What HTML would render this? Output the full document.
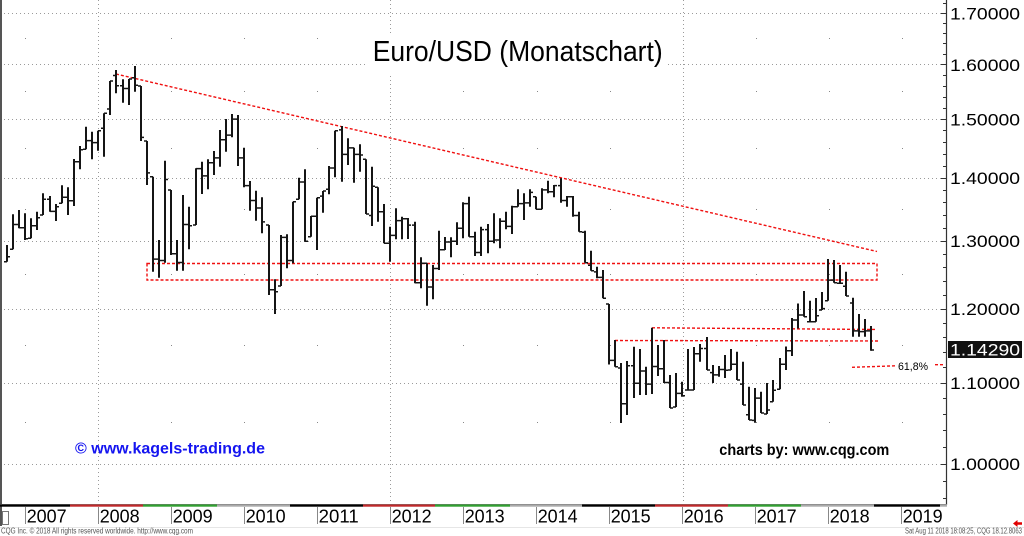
<!DOCTYPE html>
<html><head><meta charset="utf-8">
<style>
html,body{margin:0;padding:0;background:#fff;}
svg{display:block;font-family:"Liberation Sans",Arial,sans-serif;}
</style></head><body>
<svg id="c" width="1024" height="536" viewBox="0 0 1024 536" xmlns="http://www.w3.org/2000/svg">
<rect width="1024" height="536" fill="#fff"/>
<g id="grid"></g>
<!-- title -->
<rect x="368" y="33" width="300" height="40" fill="#fff"/>
<text x="372.7" y="61" font-size="29" textLength="290" lengthAdjust="spacingAndGlyphs" fill="#000">Euro/USD (Monatschart)</text>
<!-- red lines -->
<g fill="none" stroke="#f01010" stroke-width="1.4" stroke-dasharray="3 2">
<line x1="116" y1="74" x2="877" y2="251.5"/>
<path d="M147 263.5H877V280H147Z"/>
<line x1="652" y1="327.8" x2="877" y2="329.5"/>
<line x1="615" y1="340.5" x2="878" y2="341"/>
<line x1="852" y1="367.3" x2="896" y2="365.8"/>
<line x1="935" y1="364.7" x2="945" y2="364.7"/>
</g>
<g id="bars"></g>
<text x="898" y="370" font-size="11" textLength="30" lengthAdjust="spacingAndGlyphs" fill="#000">61,8%</text>
<text x="75" y="453.3" font-size="16" font-weight="bold" textLength="190" lengthAdjust="spacingAndGlyphs" fill="#1414f0">© www.kagels-trading.de</text>
<text x="719.3" y="455" font-size="16" font-weight="bold" textLength="170" lengthAdjust="spacingAndGlyphs" fill="#000">charts by: www.cqg.com</text>
<!-- axes -->
<line x1="946.5" y1="0" x2="946.5" y2="505" stroke="#333" stroke-width="1.2"/>
<line x1="1" y1="0" x2="1" y2="526" stroke="#555" stroke-width="2"/>
<g id="segs"></g>
<g id="axis"></g>
<rect x="948" y="341" width="74" height="17" fill="#111"/>
<text x="950" y="355.5" font-size="17" textLength="70" lengthAdjust="spacingAndGlyphs" fill="#fff">1.14290</text>
<rect x="2.5" y="511.5" width="6" height="13" fill="none" stroke="#777" stroke-width="1"/>
<line x1="0" y1="527.5" x2="1024" y2="527.5" stroke="#e6e6e6" stroke-width="1"/>
<text x="1" y="533.5" font-size="8" textLength="192" lengthAdjust="spacingAndGlyphs" fill="#555">CQG Inc. © 2018 All rights reserved worldwide. http://www.cqg.com</text>
<text x="905" y="533.5" font-size="8" textLength="117" lengthAdjust="spacingAndGlyphs" fill="#555">Sat Aug 11 2018 18:08:25, CQG 18.12.8063</text>
<polygon points="1013,523.5 1017.5,520 1017.5,522.3 1022,522.3 1022,524.7 1017.5,524.7 1017.5,527" fill="#e00000"/>
</svg>
<script>
(function(){
var NS="http://www.w3.org/2000/svg";
function Y(p){return 463.5-849.4*Math.log(p);}
function el(tag,attrs,parent,txt){var e=document.createElementNS(NS,tag);for(var k in attrs)e.setAttribute(k,attrs[k]);if(txt!==undefined)e.textContent=txt;parent.appendChild(e);return e;}
var grid=document.getElementById('grid'),axis=document.getElementById('axis'),bars=document.getElementById('bars'),segs=document.getElementById('segs');
// horizontal dotted grid
for(var i=0;i<=7;i++){var p=1+i*0.1;var y=Math.round(Y(p))+0.5;
 el('line',{x1:0,y1:y,x2:945,y2:y,stroke:'#9a9a9a','stroke-width':1,'stroke-dasharray':'1 3'},grid);
 el('text',{x:950,y:(Y(p)+6.5).toFixed(1),'font-size':17,textLength:70,lengthAdjust:'spacingAndGlyphs',fill:'#000'},axis,p.toFixed(5));
}
// vertical dotted grid
[98,390,683].forEach(function(x){el('line',{x1:x+0.5,y1:0,x2:x+0.5,y2:504,stroke:'#9a9a9a','stroke-width':1,'stroke-dasharray':'1 3'},grid);});
// isolated dots
var yrs=[25,171,244,317,463,537,610,756,829,902];
yrs.forEach(function(x){for(var p=1.05;p<1.7;p+=0.1){el('rect',{x:x,y:Math.round(Y(p)),width:1,height:1,fill:'#888'},grid);}});
// right axis ticks
for(var k=0;k<=38;k++){var p=0.96+k*0.02;var y=Math.round(Y(p))+0.5;var major=(Math.abs(p*10-Math.round(p*10))<1e-6);
 el('line',{x1:major?941:943,y1:y,x2:946,y2:y,stroke:'#333','stroke-width':1},axis);}
// bottom colored segments
var sg=[[0,70,'#000'],[70,143,'#c0282a'],[143,217,'#30a030'],[217,290,'#aaa'],[290,363,'#000'],[363,435,'#c0282a'],[435,510,'#30a030'],[510,582,'#aaa'],[582,655,'#000'],[655,728,'#c0282a'],[728,801,'#30a030'],[801,874,'#aaa'],[874,940,'#000'],[940,947,'#aaa']];
el('line',{x1:0,y1:504.5,x2:947,y2:504.5,stroke:'#777','stroke-width':1},segs);
sg.forEach(function(s){el('rect',{x:s[0],y:504.5,width:s[1]-s[0],height:2.2,fill:s[2]},segs);});
// year ticks and labels
for(var k=0;k<=12;k++){var x=Math.round(25.2+73*k);
 el('line',{x1:x+0.5,y1:507,x2:x+0.5,y2:524,stroke:'#888','stroke-width':1},axis);
 el('text',{x:x+1.7,y:522.3,'font-size':18,textLength:40,lengthAdjust:'spacingAndGlyphs',fill:'#000'},axis,String(2007+k));
}
// bars
var tb=[[245,261.7],[214.3,249.3],[210,228.3],
[213.3,240],[218.3,238.3],[211.7,230],[193.3,215],[196,211.7],[204,221],[185.3,203.3],[187.3,215],[159,206],[146,169.3],[126.7,149.3],[131.7,159.3],
[130.7,150.7],[113.3,156.7],[81,115],[70,93.3],[79.3,102.7],[79,105],[66,91.7],[86,141],[141,185],[176.7,271.7],[240,277.7],[160.7,262.7],
[190,255],[240,270.7],[195,270.7],[206.7,249.3],[168.3,225],[161.7,194],[159.3,189.3],[151,175],[130,166.7],[119,151.7],[114,137.3],[115,166],
[147.7,187.3],[181,210.7],[190.7,220.7],[197.3,233.3],[225,295],[279.3,314],[235,286],[234.3,268.3],[201.7,263.3],[177.7,199.3],[169.3,241.7],[216,236.7],
[197.7,250],[191,212.7],[166,194.3],[130.7,177.3],[126,181.7],[138.3,165],[147.7,182.7],[144.3,171.7],[159.3,214],[166.7,226],[187.3,221.7],[204,243.3],
[226.7,261.7],[208.3,239.3],[216.7,239.3],[218,239],[221.7,283.3],[257.3,288.3],[263.3,305.7],[265,299.3],[230.7,270],[237,250],[237.3,257.3],[222.3,245],
[202.3,238.3],[196.7,236.7],[231.7,256],[226.7,256],[224,253.3],[213.3,243.3],[218.3,248.3],[211.7,229.3],[205.7,234],[189.3,206.7],[193.3,220],[189.3,206.7],
[196.7,209.3],[188.3,209.3],[180.7,193.3],[185,197.3],[178.3,202.7],[196,206.7],[196,216.7],[211.7,231.7],[230.7,262.7],[250.7,270.7],[266.7,278.3],[270,298.3],
[304,364.5],[340,366.7],[363,423],[361,415],[346.7,398],[349,395],[366.7,395],[327.7,394],[345,376],[340,383],[375,408],[373,407],
[381.7,396.7],[349,390],[347,390],[344,361.7],[337,370],[365,383],[366,376.7],[355,378],[349,370],[351.7,380],[361.7,405],[386.7,420],
[388,422.7],[391.7,413],[383,414],[380,401.7],[358,389.3],[346.5,370],[318,356],[303.5,328.5],[291,316.7],[300.7,321.7],[298,321.7],[292,310],
[259,300.7],[260,282.7],[265,283.3],[271.7,296],[297.7,336.7],[314,336.7],[319,336.7],[326,350.7]];
var cl=[1.2755,1.3250,1.3200,
1.3030,1.3230,1.3355,1.3650,1.3455,1.3530,1.3680,1.3625,1.4265,1.4470,1.4625,1.4590,
1.4840,1.5180,1.5790,1.5600,1.5550,1.5750,1.5610,1.4680,1.4080,1.2720,1.2700,1.3970,
1.2800,1.2670,1.3250,1.3230,1.4150,1.4030,1.4250,1.4330,1.4640,1.4720,1.5000,1.4330,
1.3870,1.3630,1.3510,1.3290,1.2270,1.2240,1.3050,1.2700,1.3620,1.3930,1.2990,1.3380,
1.3700,1.3810,1.4160,1.4810,1.4390,1.4500,1.4390,1.4380,1.3390,1.3860,1.3450,1.2960,
1.3080,1.3310,1.3340,1.3240,1.2370,1.2660,1.2310,1.2580,1.2860,1.2980,1.2990,1.3190,
1.3580,1.3060,1.2820,1.3170,1.2990,1.3010,1.3300,1.3220,1.3530,1.3580,1.3590,1.3760,
1.3490,1.3800,1.3770,1.3870,1.3630,1.3690,1.3390,1.3130,1.2630,1.2530,1.2450,1.2100,
1.1290,1.1190,1.0730,1.1220,1.0990,1.1150,1.0980,1.1210,1.1180,1.1000,1.0560,1.0860,
1.0830,1.0870,1.1380,1.1450,1.1130,1.1100,1.1170,1.1160,1.1240,1.0980,1.0590,1.0520,
1.0800,1.0580,1.0650,1.0900,1.1240,1.1420,1.1840,1.1910,1.1810,1.1640,1.1900,1.2000,
1.2410,1.2190,1.2320,1.2080,1.1690,1.1680,1.1690,1.1429];
var d1="",d2="",prev=1.2680;
for(var i=0;i<tb.length;i++){
 var m=i-3;var x=Math.round(25.2+6.0833*m);
 var t=tb[i][0],b=tb[i][1];
 var o=Y(prev),c=Y(cl[i]);prev=cl[i];
 o=Math.min(b,Math.max(t,o));c=Math.min(b,Math.max(t,c));
 d1+="M"+x+" "+t+"V"+b;
 d2+="M"+(x-3)+" "+o.toFixed(1)+"H"+x+"M"+x+" "+c.toFixed(1)+"H"+(x+3);
}
el('path',{d:d1,stroke:'#151515','stroke-width':2,fill:'none'},bars);
el('path',{d:d2,stroke:'#151515','stroke-width':1.5,fill:'none'},bars);
})();
</script>
</body></html>
